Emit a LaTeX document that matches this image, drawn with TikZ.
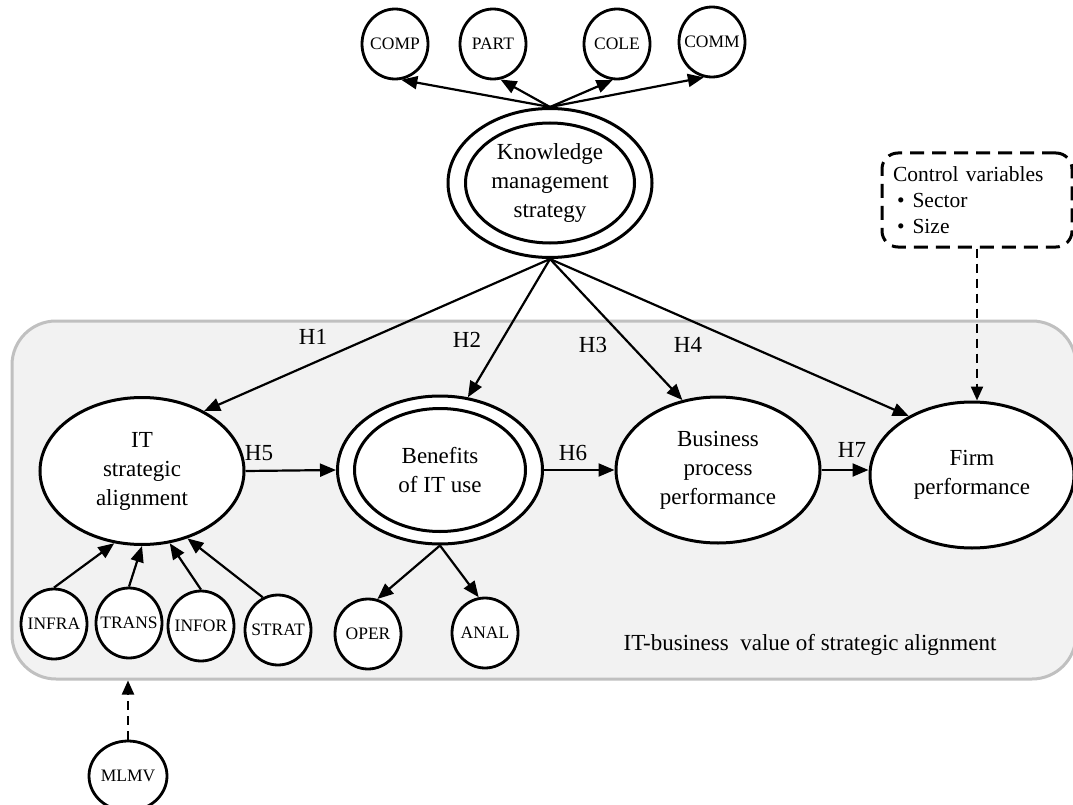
\documentclass[tikz,border=0pt]{standalone}
\usepackage{fontspec}
\setmainfont{Liberation Serif}
\usetikzlibrary{arrows.meta,shapes.geometric,positioning}
\definecolor{panelfill}{RGB}{242,242,242}
\definecolor{panelline}{RGB}{192,192,192}
\tikzset{
  construct/.style={ellipse,draw,line width=3pt,fill=white,align=center,inner sep=-8pt,
    font=\fontsize{23}{29}\selectfont},
  indicator/.style={ellipse,draw,line width=2.8pt,fill=white,minimum width=66pt,minimum height=70pt,
    inner xsep=-14pt,inner ysep=-6pt,font=\fontsize{17.5}{20}\selectfont},
  hyparrow/.style={-{Triangle[length=16pt,width=13pt]},line width=2.2pt},
  ctrlarrow/.style={-{Triangle[length=14pt,width=12pt]},line width=2.2pt,dash pattern=on 9pt off 6pt},
  hyplabel/.style={font=\fontsize{23}{27}\selectfont}
}

\begin{document}
\begin{tikzpicture}[x=1pt,y=-1pt]
  \fill[white] (0,0) rectangle (1073,805);
  \useasboundingbox (0,0) rectangle (1073,805);
  % grey panel
  \node[draw=panelline,fill=panelfill,line width=3pt,rounded corners=44pt,
    minimum width=1064pt,minimum height=358pt,inner sep=0pt] (panel) at (544,500) {};
  \node[hyplabel] (paneltitle) at (810,645) {IT-business\ \ value of strategic alignment};
  % constructs
  \node[construct,minimum width=204pt,minimum height=149pt] (kms) at (550,183) {};
  \node[construct,minimum width=169pt,minimum height=120pt] (kmsin) at (kms.center) {Knowledge\\management\\strategy};
  \node[construct,minimum width=204pt,minimum height=147pt] (it) at (142,471) {IT\\strategic\\alignment};
  \node[construct,minimum width=205pt,minimum height=148pt] (ben) at (440,470) {};
  \node[construct,minimum width=171pt,minimum height=123pt] (benin) at (ben.center) {Benefits\\of IT use};
  \node[construct,minimum width=204pt,minimum height=146pt] (bpp) at (718,470) {Business\\process\\performance};
  \node[construct,minimum width=204pt,minimum height=146pt] (firm) at (972,475) {Firm\\performance};
  % control variables
  \node[draw,line width=3pt,dash pattern=on 14pt off 8pt,rounded corners=16pt,text width=168pt,
    align=left,inner xsep=11pt,minimum height=94pt,font=\fontsize{21.5}{26}\selectfont] (ctrl) at (977,200)
    {Control variables\\\hspace*{4pt}\textbullet\hspace{8pt}Sector\\\hspace*{4pt}\textbullet\hspace{8pt}Size};
  % indicators
  \foreach \nm/\px/\py in {COMP/395/44,PART/493/44,COLE/617/44,COMM/712/42,
    INFRA/54/624,TRANS/129/623,INFOR/201/626,STRAT/278/630,OPER/368/634,ANAL/485/633}
    \node[indicator] (\nm) at (\px,\py) {\nm};
  \node[indicator,minimum width=78pt] (MLMV) at (128,776) {MLMV};
  % indicator links
  \foreach \nm/\ang in {COMP/280,PART/282,COLE/263,COMM/257}
    \draw[hyparrow] (kms.north) -- (\nm.\ang);
  \draw[hyparrow] (INFRA.north) -- (it.249);
  \draw[hyparrow] (TRANS.north) -- (it.270);
  \draw[hyparrow] (INFOR.north) -- (it.291);
  \draw[hyparrow] (STRAT.115) -- (it.304);
  \draw[hyparrow] (ben.south) -- (OPER.75);
  \draw[hyparrow] (ben.south) -- (ANAL.100);
  % hypotheses
  \draw[hyparrow] (kms.south) -- (it.44);
  \draw[hyparrow] (kms.south) -- (ben.69);
  \draw[hyparrow] (kms.south) -- (bpp.117);
  \draw[hyparrow] (kms.south) -- (firm.137);
  \draw[hyparrow] (it.east) -- (ben.west);
  \draw[hyparrow] (ben.east) -- (bpp.west);
  \draw[hyparrow] (bpp.east) -- (bpp.east -| firm.west);
  \node[hyplabel] (h1) at (313,337) {H1};
  \node[hyplabel] (h2) at (467,340) {H2};
  \node[hyplabel] (h3) at (593,345) {H3};
  \node[hyplabel] (h4) at (688,345) {H4};
  \node[hyplabel] (h5) at (259,453) {H5};
  \node[hyplabel] (h6) at (573,453) {H6};
  \node[hyplabel] (h7) at (852,450) {H7};
  % dashed influences
  \draw[ctrlarrow] (ctrl.south) -- (ctrl.south |- firm.north);
  \draw[ctrlarrow] (MLMV.north) -- (MLMV.north |- panel.south);
\end{tikzpicture}
\end{document}
